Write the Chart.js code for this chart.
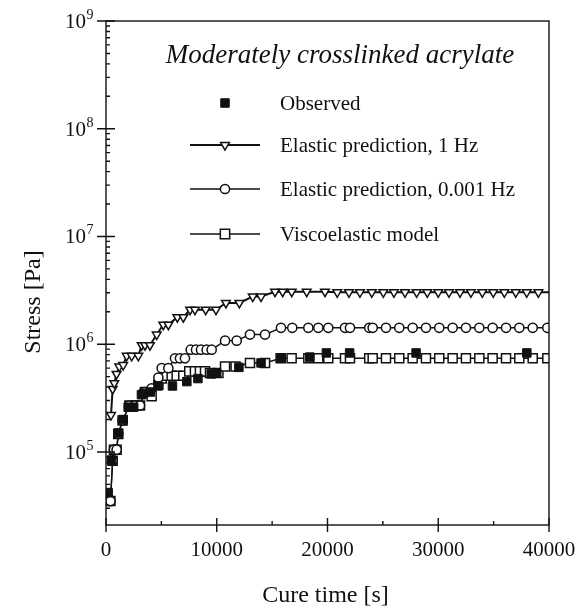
<!DOCTYPE html>
<html>
<head>
<meta charset="utf-8">
<script src="https://cdn.jsdelivr.net/npm/chart.js@4.4.0/dist/chart.umd.min.js"></script>
<style>
  body { margin: 0; background: #fff; }
  canvas { display: block; }
</style>
</head>
<body>
<canvas id="stressChart" width="579" height="613"></canvas>
<script>
// data (time in s, stress in Pa)
const obsTime = [200, 500, 1100, 1550, 2000, 2500, 3200, 3400, 4000, 4700, 6000, 7300, 8300, 9500, 10000, 12000, 14000, 15800, 18400, 19900, 22000, 28000, 38000]
const obsStress = [4.2e4, 8.4e4, 1.5e5, 2.0e5, 2.6e5, 2.6e5, 3.4e5, 3.5e5, 3.6e5, 4.1e5, 4.1e5, 4.5e5, 4.8e5, 5.3e5, 5.4e5, 6.1e5, 6.7e5, 7.4e5, 7.6e5, 8.3e5, 8.3e5, 8.3e5, 8.3e5]

const hz1Time = [450, 600, 750, 950, 1200, 1550, 1870, 2320, 2920, 3220, 3520, 3970, 4580, 5170, 5630, 6440, 6980, 7590, 8030, 9000, 9930, 10830, 12040, 13250, 14000, 15260, 15950, 16770, 18120, 19770,
  20880, 21940, 22930, 24000, 25040, 26000, 27000, 28050, 29010, 30000, 30970, 31970, 32950, 33980, 34970, 35970, 37000, 37990, 39040, 40000]
const hz1Stress = [2.2e5, 3.85e5, 4.35e5, 5.3e5, 6.2e5, 6.4e5, 7.8e5, 7.8e5, 7.8e5, 9.8e5, 9.8e5, 9.8e5, 1.23e6, 1.52e6, 1.52e6, 1.78e6, 1.78e6, 2.09e6, 2.09e6, 2.09e6, 2.09e6, 2.42e6, 2.42e6, 2.77e6, 2.77e6, 3.07e6, 3.07e6, 3.07e6, 3.07e6, 3.07e6,
  3.03e6, 3.03e6, 3.03e6, 3.03e6, 3.03e6, 3.03e6, 3.03e6, 3.03e6, 3.03e6, 3.03e6, 3.03e6, 3.03e6, 3.03e6, 3.03e6, 3.03e6, 3.03e6, 3.03e6, 3.03e6, 3.03e6, 3.03e6]

const mHzTime = [400, 600, 720, 960, 1110, 1500, 2110, 2620, 3070, 3520, 4120, 4730, 5030, 5630, 6230, 6680, 7130, 7650, 8130, 8580, 9090, 9540, 10750, 11800, 13000, 14360, 15800, 16820, 18270, 19170, 20070,
  21580, 22030, 23770, 24080, 25280, 26480, 27690, 28890, 30090, 31300, 32500, 33710, 34910, 36120, 37320, 38530, 39850]
const mHzStress = [3.5e4, 8.3e4, 1.05e5, 1.05e5, 1.47e5, 1.96e5, 2.7e5, 2.7e5, 2.7e5, 3.6e5, 3.9e5, 4.9e5, 6.0e5, 6.0e5, 7.4e5, 7.4e5, 7.4e5, 8.9e5, 8.9e5, 8.9e5, 8.9e5, 8.9e5, 1.08e6, 1.08e6, 1.23e6, 1.23e6, 1.42e6, 1.42e6, 1.42e6, 1.42e6, 1.42e6,
  1.42e6, 1.42e6, 1.42e6, 1.42e6, 1.42e6, 1.42e6, 1.42e6, 1.42e6, 1.42e6, 1.42e6, 1.42e6, 1.42e6, 1.42e6, 1.42e6, 1.42e6, 1.42e6, 1.42e6]

const viscoTime = [400, 600, 720, 960, 1110, 1500, 2110, 2620, 3070, 3520, 4120, 4730, 5030, 5480, 5930, 6380, 6980, 7520, 8030, 8480, 8940, 9390, 10150, 10750, 11700, 13000, 14360, 15770, 16760, 18270, 19170, 20070,
  21580, 22030, 23770, 24080, 25280, 26480, 27690, 28890, 30090, 31300, 32500, 33710, 34910, 36120, 37320, 38530, 39850]
const viscoStress = [3.5e4, 8.3e4, 1.05e5, 1.05e5, 1.47e5, 1.96e5, 2.7e5, 2.7e5, 2.7e5, 3.6e5, 3.3e5, 4.2e5, 4.8e5, 5.1e5, 5.1e5, 5.1e5, 5.1e5, 5.6e5, 5.6e5, 5.6e5, 5.6e5, 5.4e5, 5.4e5, 6.2e5, 6.2e5, 6.7e5, 6.7e5, 7.4e5, 7.4e5, 7.4e5, 7.4e5, 7.4e5,
  7.4e5, 7.4e5, 7.4e5, 7.4e5, 7.4e5, 7.4e5, 7.4e5, 7.4e5, 7.4e5, 7.4e5, 7.4e5, 7.4e5, 7.4e5, 7.4e5, 7.4e5, 7.4e5, 7.4e5]

const xTicks = [0, 10000, 20000, 30000, 40000]
const yExponents = [5, 6, 7, 8, 9]
const seriesNames = ['Observed', 'Elastic prediction, 1 Hz', 'Elastic prediction, 0.001 Hz', 'Viscoelastic model']
const chartTitle = 'Moderately crosslinked acrylate'

const serif = '"Liberation Serif", "DejaVu Serif", serif'
const ink = '#111'

const pts = (xs, ys) => xs.map((x, i) => ({x: x, y: ys[i]}))

const datasets = [
    {
        label: seriesNames[0], data: pts(obsTime, obsStress), showLine: false,
        pointStyle: 'rect', pointRadius: 6, backgroundColor: ink, borderColor: ink, borderWidth: 1,
        order: 0
    },
    {
        label: seriesNames[1], data: pts(hz1Time, hz1Stress), showLine: true,
        pointStyle: 'triangle', rotation: 180, borderColor: ink, backgroundColor: '#fff',
        borderWidth: 2, pointBorderWidth: 1.5, legendRadius: 5,
        pointRadius: ctx => ctx.dataIndex === hz1Time.length - 1 ? 0 : 5,
        order: 1
    },
    {
        label: seriesNames[2], data: pts(mHzTime, mHzStress), showLine: true,
        pointStyle: 'circle', pointRadius: 4.6, legendRadius: 4.6, borderColor: ink, backgroundColor: '#fff',
        borderWidth: 1.4, pointBorderWidth: 1.5,
        order: 2
    },
    {
        label: seriesNames[3], data: pts(viscoTime, viscoStress), showLine: true,
        pointStyle: 'rect', pointRadius: 6.4, legendRadius: 6.6, borderColor: ink, backgroundColor: '#fff',
        borderWidth: 1.4, pointBorderWidth: 1.5,
        order: 3
    }
]
datasets[0].legendRadius = 6

const frame = {
    id: 'frame',
    afterDraw(chart) {
        const ctx = chart.ctx
        const a = chart.chartArea
        const xs = chart.scales.x
        const ys = chart.scales.y
        ctx.save()
        ctx.strokeStyle = ink
        ctx.lineWidth = 1.4
        ctx.strokeRect(a.left, a.top, a.right - a.left, a.bottom - a.top)

        // x ticks
        ctx.beginPath()
        for (let v = 0; v <= 40000; v += 5000) {
            const px = xs.getPixelForValue(v)
            if (v % 10000 === 0) {
                ctx.moveTo(px, a.bottom + 7); ctx.lineTo(px, a.bottom - 7)
            } else {
                ctx.moveTo(px, a.bottom); ctx.lineTo(px, a.bottom - 4)
            }
        }
        // y ticks (log)
        for (let e = 4; e <= 8; e++) {
            for (let m = 1; m <= 9; m++) {
                const v = m * Math.pow(10, e)
                if (v < ys.min || v > ys.max) continue
                const py = ys.getPixelForValue(v)
                if (m === 1) {
                    ctx.moveTo(a.left - 9, py); ctx.lineTo(a.left + 9, py)
                } else {
                    ctx.moveTo(a.left, py); ctx.lineTo(a.left + 4, py)
                }
            }
        }
        const topPx = ys.getPixelForValue(1e9)
        ctx.moveTo(a.left - 9, topPx); ctx.lineTo(a.left + 9, topPx)
        ctx.stroke()

        ctx.fillStyle = ink
        // x tick labels
        ctx.font = '21px ' + serif
        ctx.textAlign = 'center'
        ctx.textBaseline = 'alphabetic'
        xTicks.forEach(v => ctx.fillText(String(v), xs.getPixelForValue(v), a.bottom + 31))

        // y tick labels, 10 with superscript
        yExponents.forEach(e => {
            const py = ys.getPixelForValue(Math.pow(10, e))
            ctx.font = '21px ' + serif
            ctx.textAlign = 'right'
            const baseRight = a.left - 20
            ctx.fillText('10', baseRight, py + 7)
            ctx.font = '14px ' + serif
            ctx.textAlign = 'left'
            ctx.fillText(String(e), baseRight + 0.5, py - 2)
        })

        // axis titles
        ctx.font = '24px ' + serif
        ctx.textAlign = 'center'
        ctx.fillText('Cure time [s]', (a.left + a.right) / 2 - 2, 602)
        ctx.save()
        ctx.translate(34, 302)
        ctx.rotate(-Math.PI / 2)
        ctx.textBaseline = 'middle'
        ctx.fillText('Stress [Pa]', 0, 0)
        ctx.restore()

        // inner title
        ctx.font = 'italic 27px ' + serif
        ctx.textAlign = 'center'
        ctx.textBaseline = 'middle'
        ctx.fillText(chartTitle, 340, 56)

        // legend
        const rowsY = [103, 145, 189, 234]
        const markX = 225
        ctx.font = '21px ' + serif
        ctx.textAlign = 'left'
        datasets.forEach((d, i) => {
            const y = rowsY[i]
            if (d.showLine) {
                ctx.beginPath()
                ctx.lineWidth = d.borderWidth
                ctx.strokeStyle = ink
                ctx.moveTo(190, y); ctx.lineTo(260, y)
                ctx.stroke()
            }
            ctx.fillStyle = d.backgroundColor
            ctx.strokeStyle = ink
            ctx.lineWidth = d.pointBorderWidth || 1
            Chart.helpers.drawPoint(ctx, {
                pointStyle: d.pointStyle, radius: d.legendRadius,
                rotation: d.rotation || 0, borderWidth: ctx.lineWidth
            }, markX, y)
            ctx.fillStyle = ink
            ctx.fillText(d.label, 280, y + 1)
        })
        ctx.restore()
    }
}

new Chart(document.getElementById('stressChart'), {
    type: 'scatter',
    data: {datasets: datasets},
    options: {
        responsive: false,
        animation: false,
        layout: {padding: {left: 0, right: 30, top: 21, bottom: 0}},
        plugins: {legend: {display: false}, tooltip: {enabled: false}},
        scales: {
            x: {
                type: 'linear', min: 0, max: 40000,
                grid: {display: false}, border: {display: false},
                ticks: {display: false},
                afterFit: s => { s.height = 88 }
            },
            y: {
                type: 'logarithmic', min: 2.1e4, max: 1e9,
                grid: {display: false}, border: {display: false},
                ticks: {display: false},
                afterFit: s => { s.width = 106 }
            }
        }
    },
    plugins: [frame]
})
</script>
</body>
</html>
